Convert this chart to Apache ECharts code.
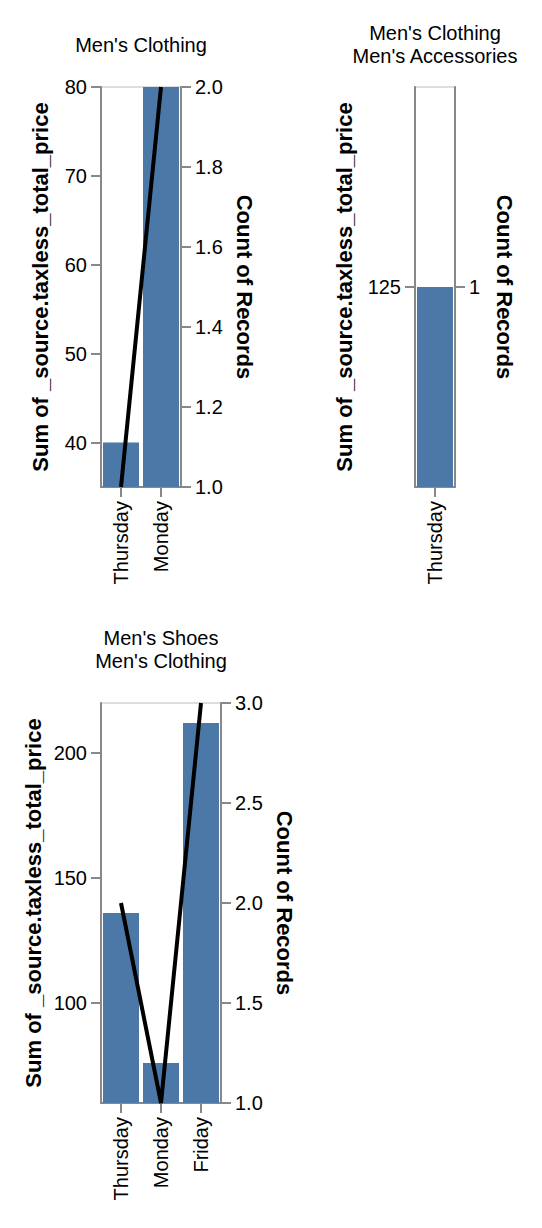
<!DOCTYPE html>
<html>
<head>
<meta charset="utf-8">
<script src="https://cdn.jsdelivr.net/npm/echarts@6/dist/echarts.min.js"></script>
<style>html,body{margin:0;padding:0;background:#fff}#c{width:542px;height:1228px}</style>
</head>
<body>
<div id="c"></div>
<script>
const panelTitles = ["Men's Clothing", "Men's Clothing\nMen's Accessories", "Men's Shoes\nMen's Clothing"];
const days1 = ['Thursday', 'Monday'];
const sum1 = [40, 80];
const count1 = [1, 2];
const days2 = ['Thursday'];
const sum2 = [125];
const count2 = [1];
const days3 = ['Thursday', 'Monday', 'Friday'];
const sum3 = [136, 76, 212];
const count3 = [2, 1, 3];
const sumName = 'Sum of _source.taxless_total_price';
const countName = 'Count of Records';

const FONT = '"Liberation Sans", Arial, Helvetica, sans-serif';
const AX = '#888';
const chart = echarts.init(document.getElementById('c'), null, {renderer: 'svg'});

const grids = [
  {left: 101, top: 87, width: 80, height: 400},
  {left: 415, top: 87, width: 40, height: 400},
  {left: 101, top: 703, width: 120, height: 400}
];
const titlePos = [[141, 45], [435, 44], [161, 649]];

function xAx(i, data) {
  return {
    type: 'category', gridIndex: i, data: data,
    axisLine: {show: true, lineStyle: {color: AX, width: 2}},
    axisTick: {show: true, alignWithLabel: true, length: 10, lineStyle: {color: AX, width: 2}},
    axisLabel: {rotate: 90, margin: 14, fontSize: 20, color: '#000', fontFamily: FONT}
  };
}
function yAx(i, pos, opts) {
  return Object.assign({
    type: 'value', gridIndex: i, position: pos,
    nameLocation: 'middle', nameRotate: pos === 'left' ? 90 : -90,
    nameTextStyle: {fontSize: 22, fontWeight: 'bold', color: '#000', fontFamily: FONT},
    axisLine: {show: true, lineStyle: {color: AX, width: 2}},
    axisTick: {show: true, length: 10, lineStyle: {color: AX, width: 2}},
    splitLine: {show: false},
    axisLabel: {margin: 14, fontSize: 20, color: '#000', fontFamily: FONT}
  }, opts);
}
const fmt1 = v => v.toFixed(1);

const option = {
  animation: false,
  grid: grids.map(g => Object.assign({show: true, borderColor: '#ddd', borderWidth: 2, backgroundColor: 'transparent'}, g)),
  xAxis: [xAx(0, days1), xAx(1, days2), xAx(2, days3)],
  yAxis: [
    yAx(0, 'left', {name: sumName, nameGap: 50, min: 35, max: 80, interval: 5,
      axisLabel: {margin: 14, fontSize: 20, color: '#000', fontFamily: FONT, customValues: [40, 50, 60, 70, 80]},
      axisTick: {show: true, length: 10, lineStyle: {color: AX, width: 2}, customValues: [40, 50, 60, 70, 80]}}),
    yAx(0, 'right', {name: countName, nameGap: 52, min: 1, max: 2, interval: 0.2,
      axisLabel: {margin: 14, fontSize: 20, color: '#000', fontFamily: FONT, formatter: fmt1}}),
    yAx(1, 'left', {name: sumName, nameGap: 60, min: 124, max: 126,
      axisLabel: {margin: 14, fontSize: 20, color: '#000', fontFamily: FONT, customValues: [125]},
      axisTick: {show: true, length: 10, lineStyle: {color: AX, width: 2}, customValues: [125]}}),
    yAx(1, 'right', {name: countName, nameGap: 38, min: 0, max: 2,
      axisLabel: {margin: 14, fontSize: 20, color: '#000', fontFamily: FONT, customValues: [1]},
      axisTick: {show: true, length: 10, lineStyle: {color: AX, width: 2}, customValues: [1]}}),
    yAx(2, 'left', {name: sumName, nameGap: 57, min: 60, max: 220,
      axisLabel: {margin: 14, fontSize: 20, color: '#000', fontFamily: FONT, customValues: [100, 150, 200]},
      axisTick: {show: true, length: 10, lineStyle: {color: AX, width: 2}, customValues: [100, 150, 200]}}),
    yAx(2, 'right', {name: countName, nameGap: 52, min: 1, max: 3, interval: 0.5,
      axisLabel: {margin: 14, fontSize: 20, color: '#000', fontFamily: FONT, formatter: fmt1}})
  ],
  series: [
    {type: 'bar', xAxisIndex: 0, yAxisIndex: 0, data: sum1, barCategoryGap: '10%', itemStyle: {color: '#4c78a8'}},
    {type: 'line', xAxisIndex: 0, yAxisIndex: 1, data: count1, showSymbol: false, lineStyle: {color: '#000', width: 4}, z: 5},
    {type: 'bar', xAxisIndex: 1, yAxisIndex: 2, data: sum2, barCategoryGap: '10%', itemStyle: {color: '#4c78a8'}},
    {type: 'line', xAxisIndex: 1, yAxisIndex: 3, data: count2, showSymbol: false, lineStyle: {color: '#000', width: 4}, z: 5},
    {type: 'bar', xAxisIndex: 2, yAxisIndex: 4, data: sum3, barCategoryGap: '10%', itemStyle: {color: '#4c78a8'}},
    {type: 'line', xAxisIndex: 2, yAxisIndex: 5, data: count3, showSymbol: false, lineStyle: {color: '#000', width: 4}, z: 5}
  ],
  graphic: panelTitles.map((t, i) => ({
    type: 'text', x: titlePos[i][0], y: titlePos[i][1],
    style: {text: t, align: 'center', verticalAlign: 'middle', fontSize: 20, lineHeight: 23, fontFamily: FONT, fill: '#000'}
  }))
};
chart.setOption(option);
</script>
</body>
</html>
